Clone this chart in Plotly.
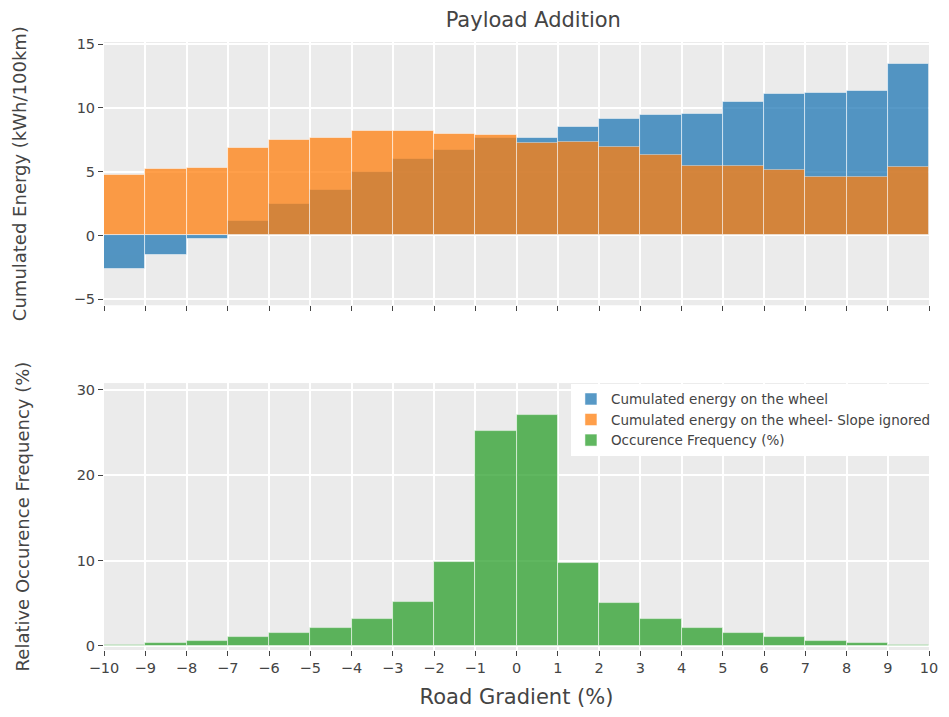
import plotly.graph_objects as go
from plotly.subplots import make_subplots

# Road gradient bins (%), centre of each 1% wide bin
gradient_bins = [-9.5, -8.5, -7.5, -6.5, -5.5, -4.5, -3.5, -2.5, -1.5, -0.5,
                 0.5, 1.5, 2.5, 3.5, 4.5, 5.5, 6.5, 7.5, 8.5, 9.5]

# Cumulated energy on the wheel (kWh/100km)
energy_wheel = [-2.6, -1.5, -0.3, 1.1, 2.5, 3.6, 5.0, 6.0, 6.7, 7.6,
                7.6, 8.5, 9.1, 9.45, 9.5, 10.45, 11.05, 11.15, 11.35, 13.45]

# Cumulated energy on the wheel, slope ignored (kWh/100km)
energy_no_slope = [4.7, 5.2, 5.3, 6.85, 7.45, 7.65, 8.15, 8.2, 7.95, 7.85,
                   7.25, 7.3, 6.9, 6.3, 5.45, 5.45, 5.1, 4.55, 4.55, 5.35]

# Relative occurence frequency (%)
occurence = [0.1, 0.35, 0.6, 1.0, 1.5, 2.1, 3.2, 5.1, 9.8, 25.2,
             27.1, 9.7, 5.0, 3.2, 2.05, 1.5, 1.0, 0.55, 0.35, 0.1]

tick_vals = list(range(-10, 11))

font_name = "DejaVu Sans"
text_col = "#444444"

fig = make_subplots(rows=2, cols=1, shared_xaxes=True, vertical_spacing=0.1)

bar_line = dict(color="rgba(255,255,255,0.5)", width=1)

fig.add_trace(go.Bar(x=gradient_bins, y=energy_wheel, width=1,
                     name="Cumulated energy on the wheel",
                     marker=dict(color="#1f77b4", line=bar_line), opacity=0.75),
              row=1, col=1)
fig.add_trace(go.Bar(x=gradient_bins, y=energy_no_slope, width=1,
                     name="Cumulated energy on the wheel- Slope ignored",
                     marker=dict(color="#ff7f0e", line=bar_line), opacity=0.75),
              row=1, col=1)
fig.add_trace(go.Bar(x=gradient_bins, y=occurence, width=1,
                     name="Occurence Frequency (%)",
                     marker=dict(color="#2ca02c", line=bar_line), opacity=0.75),
              row=2, col=1)

axis_common = dict(
    showgrid=True, gridcolor="white", gridwidth=1.5,
    ticks="outside", ticklen=5, tickcolor="#444", tickwidth=1,
    tickfont=dict(size=14.5, color=text_col, family=font_name),
    zeroline=False, showline=False, automargin=False,
)

fig.update_xaxes(range=[-10, 10], tickvals=tick_vals, **axis_common)
fig.update_xaxes(showticklabels=False, row=1, col=1)
fig.update_xaxes(title=dict(text="Road Gradient (%)", standoff=14,
                            font=dict(size=21, color=text_col, family=font_name)),
                 row=2, col=1)

fig.update_yaxes(**axis_common)
fig.update_yaxes(range=[-5.47, 15.16], tickvals=[-5, 0, 5, 10, 15],
                 domain=[0.567, 1.0],
                 title=dict(text="Cumulated Energy (kWh/100km)", standoff=42,
                            font=dict(size=18, color=text_col, family=font_name)),
                 row=1, col=1)
fig.update_yaxes(range=[-0.47, 30.8], tickvals=[0, 10, 20, 30],
                 domain=[0.0, 0.439],
                 title=dict(text="Relative Occurence Frequency (%)", standoff=42,
                            font=dict(size=18, color=text_col, family=font_name)),
                 row=2, col=1)

# the page adds an 8px body margin on every side, so the figure is sized to fit inside it
fig.update_layout(
    width=933, height=701,
    margin=dict(l=96, r=5, t=34, b=59),
    barmode="overlay",
    bargap=0,
    plot_bgcolor="#ebebeb",
    paper_bgcolor="white",
    font=dict(family=font_name, color=text_col),
    title=dict(text="Payload Addition", x=0.563, xanchor="center",
               y=0.984, yanchor="middle",
               font=dict(size=21, color=text_col, family=font_name)),
    legend=dict(x=0.566, y=0.438, xanchor="left", yanchor="top",
                bgcolor="white", font=dict(size=13.5, color=text_col, family=font_name),
                tracegroupgap=0),
)

fig.write_html("out.html")
